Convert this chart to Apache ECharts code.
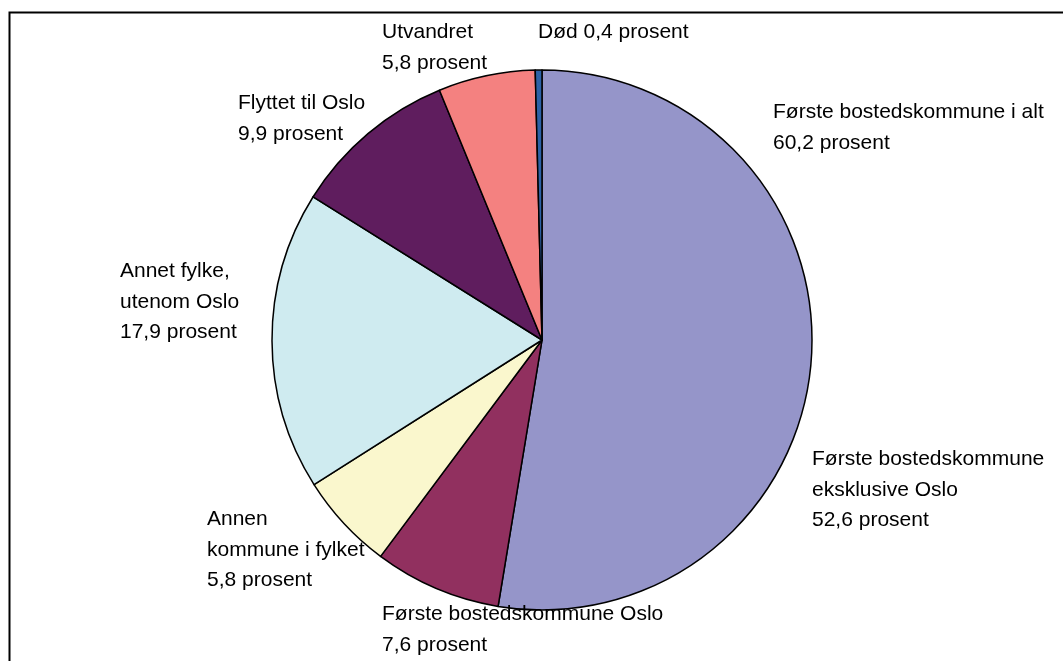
<!DOCTYPE html>
<html>
<head>
<meta charset="utf-8">
<script src="https://cdn.jsdelivr.net/npm/echarts@6/dist/echarts.min.js"></script>
<style>
html,body{margin:0;padding:0;background:#fff;}
#chart{width:1063px;height:661px;}
</style>
</head>
<body>
<div id="chart"></div>
<script>
// Data
const categories = [
  'Første bostedskommune\neksklusive Oslo',
  'Første bostedskommune Oslo',
  'Annen\nkommune i fylket',
  'Annet fylke,\nutenom Oslo',
  'Flyttet til Oslo',
  'Utvandret',
  'Død'
];
const values = [52.6, 7.6, 5.8, 17.9, 9.9, 5.8, 0.4];
const valueSeparators = ['\n', '\n', '\n', '\n', '\n', '\n', ' '];
const totalLabel = 'Første bostedskommune i alt';
const totalValue = 60.2;
const unit = 'prosent';

// Styles / layout (kept separate from data)
const colors = ['#9595C9', '#91305F', '#FAF7CD', '#CFEBF0', '#5F1D5E', '#F48180', '#2C62A6'];
const labelPos = [
  [812, 444], [382, 599], [207, 504], [120, 256], [238, 88], [382, 17], [538, 17]
];
const FONT = '"Liberation Sans", Arial, sans-serif';
const FS = 21, LH = 30.5;

const fmt = v => v.toFixed(1).replace('.', ',');

const chart = echarts.init(document.getElementById('chart'), null, {renderer: 'canvas'});
chart.setOption({
  backgroundColor: '#fff',
  animation: false,
  series: [{
    type: 'pie',
    center: [542, 340],
    radius: 270,
    startAngle: 90,
    clockwise: true,
    data: categories.map((c, i) => ({
      name: c, value: values[i],
      itemStyle: {color: colors[i]}
    })),
    itemStyle: {borderColor: '#000', borderWidth: 1.5},
    label: {
      show: true,
      position: 'outside',
      overflow: 'none',
      fontFamily: FONT, fontSize: FS, lineHeight: LH, color: '#000',
      formatter: p => p.name + valueSeparators[p.dataIndex] + fmt(p.value) + ' ' + unit
    },
    labelLine: {show: false},
    labelLayout: p => ({
      x: labelPos[p.dataIndex][0],
      y: labelPos[p.dataIndex][1],
      align: 'left',
      verticalAlign: 'top',
      hideOverlap: false,
      moveOverlap: null
    }),
    emphasis: {disabled: true}
  }],
  graphic: [
    {
      type: 'rect', silent: true, z: 100,
      shape: {x: 9.5, y: 12.5, width: 1200, height: 800},
      style: {fill: 'none', stroke: '#000', lineWidth: 2}
    },
    {
      type: 'text', silent: true, left: 773, top: 97,
      style: {
        text: totalLabel + '\n' + fmt(totalValue) + ' ' + unit,
        fontFamily: FONT, fontSize: FS, lineHeight: LH, fill: '#000'
      }
    }
  ]
});
</script>
</body>
</html>
